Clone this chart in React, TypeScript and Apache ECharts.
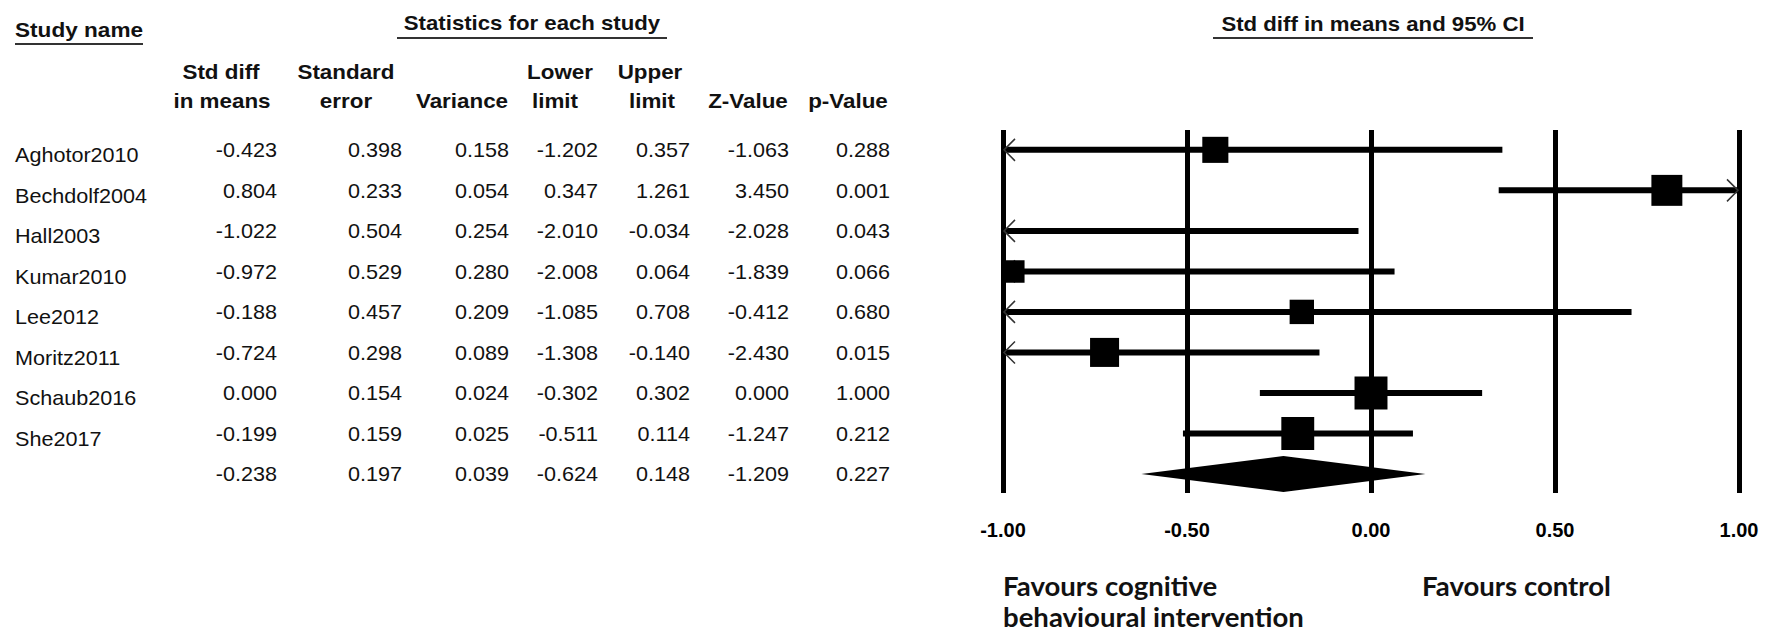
import React, { useEffect, useRef } from "react";
import * as echarts from "echarts";

// ---- data ----
const studies = ["Aghotor2010", "Bechdolf2004", "Hall2003", "Kumar2010", "Lee2012", "Moritz2011", "Schaub2016", "She2017"];
const stdDiff = [-0.423, 0.804, -1.022, -0.972, -0.188, -0.724, 0.0, -0.199];
const stdErr = [0.398, 0.233, 0.504, 0.529, 0.457, 0.298, 0.154, 0.159];
const variance = [0.158, 0.054, 0.254, 0.28, 0.209, 0.089, 0.024, 0.025];
const lowerLimit = [-1.202, 0.347, -2.01, -2.008, -1.085, -1.308, -0.302, -0.511];
const upperLimit = [0.357, 1.261, -0.034, 0.064, 0.708, -0.14, 0.302, 0.114];
const zValue = [-1.063, 3.45, -2.028, -1.839, -0.412, -2.43, 0.0, -1.247];
const pValue = [0.288, 0.001, 0.043, 0.066, 0.68, 0.015, 1.0, 0.212];
// pooled (summary) row: std diff, SE, variance, lower, upper, Z, p
const summaryRow = [-0.238, 0.197, 0.039, -0.624, 0.148, -1.209, 0.227];
const xTicks = [-1.0, -0.5, 0.0, 0.5, 1.0];
const TAU2 = 0.2; // between-study variance used for marker weights

const W = 1767;
const H = 636;
const FONT = '"Liberation Sans", Arial, sans-serif';

export default function App() {
  const ref = useRef<HTMLDivElement>(null);
  useEffect(() => {
    if (!ref.current) return;
    const chart = echarts.init(ref.current, undefined, { renderer: "svg" });
    const nRows = studies.length + 1;
    const studyData = studies.map((_, i) => [i, stdDiff[i], lowerLimit[i], upperLimit[i], variance[i]]);
    const summaryData = [[studies.length, summaryRow[0], summaryRow[3], summaryRow[4]]];

    chart.setOption({
      animation: false,
      backgroundColor: "#fff",
      grid: { left: 1003, right: W - 1739, top: 130, bottom: H - 493, containLabel: false },
      xAxis: {
        type: "value",
        min: -1,
        max: 1,
        interval: 0.5,
        axisLine: { show: false },
        axisTick: { show: false },
        splitLine: { show: true, lineStyle: { color: "#000", width: 5 } },
        axisLabel: {
          margin: 27,
          fontFamily: FONT,
          fontWeight: "bold",
          fontSize: 20,
          color: "#000",
          formatter: (v: number) => {
            const t = xTicks.find((k) => Math.abs(k - v) < 1e-9);
            return t === undefined ? "" : t.toFixed(2);
          },
        },
      },
      yAxis: { type: "value", inverse: true, min: -0.49, max: nRows - 0.53, show: false },
      series: [
        {
          type: "custom",
          data: studyData,
          encode: { x: [1, 2, 3], y: 0 },
          renderItem: (params: any, api: any) => {
            const row = api.value(0);
            const est = api.value(1);
            const lo = api.value(2);
            const hi = api.value(3);
            const v = api.value(4);
            const y = api.coord([0, row])[1];
            const x1 = api.coord([Math.max(lo, -1), row])[0];
            const x2 = api.coord([Math.min(hi, 1), row])[0];
            const children: any[] = [
              { type: "line", shape: { x1, y1: y, x2, y2: y }, style: { stroke: "#000", lineWidth: 6 } },
            ];
            if (lo < -1) {
              children.push({
                type: "polyline",
                shape: { points: [[x1 + 12, y - 11], [x1 + 1, y], [x1 + 12, y + 11]] },
                style: { stroke: "#333", lineWidth: 1.5, fill: "none" },
              });
            }
            if (hi > 1) {
              children.push({
                type: "polyline",
                shape: { points: [[x2 - 12, y - 11], [x2 - 1, y], [x2 - 12, y + 11]] },
                style: { stroke: "#333", lineWidth: 1.5, fill: "none" },
              });
            }
            if (est >= -1 && est <= 1) {
              const s = 15.6 * Math.sqrt(1 / (v + TAU2));
              const cx = api.coord([est, row])[0];
              children.push({
                type: "rect",
                shape: { x: cx - s / 2, y: y - s / 2, width: s, height: s },
                style: { fill: "#000" },
              });
            }
            return { type: "group", children };
          },
          z: 3,
        },
        {
          type: "custom",
          data: summaryData,
          encode: { x: [1, 2, 3], y: 0 },
          renderItem: (params: any, api: any) => {
            const row = api.value(0);
            const y = api.coord([0, row])[1];
            const xm = api.coord([api.value(1), row])[0];
            const xl = api.coord([api.value(2), row])[0];
            const xr = api.coord([api.value(3), row])[0];
            return {
              type: "polygon",
              shape: { points: [[xl, y], [xm, y - 18], [xr, y], [xm, y + 18]] },
              style: { fill: "#000" },
            };
          },
          z: 3,
        },
      ],
    });

    const rowY = (i: number) => chart.convertToPixel({ yAxisIndex: 0 }, i) as number;
    const g: any[] = [];
    const txt = (
      text: string,
      x: number,
      y: number,
      align: string,
      opts: { bold?: boolean; size?: number; sx?: number; family?: string; color?: string } = {}
    ) => {
      g.push({
        type: "text",
        x,
        y,
        scaleX: opts.sx ?? 1,
        style: {
          text,
          fill: opts.color ?? "#111",
          fontFamily: opts.family ?? FONT,
          fontSize: opts.size ?? 20,
          fontWeight: opts.bold ? "bold" : "normal",
          textAlign: align,
          align,
          textVerticalAlign: "middle",
          verticalAlign: "middle",
        },
      });
    };
    const uline = (x1: number, x2: number, y: number) => {
      g.push({ type: "line", shape: { x1, y1: y, x2, y2: y }, style: { stroke: "#333", lineWidth: 2 } });
    };

    // titles
    txt("Study name", 15, 30, "left", { bold: true, sx: 1.13 });
    uline(15, 143, 44);
    txt("Statistics for each study", 532, 23, "center", { bold: true, sx: 1.11 });
    uline(397, 667, 38);
    txt("Std diff in means and 95% CI", 1373, 24, "center", { bold: true, sx: 1.11 });
    uline(1213, 1533, 38);

    // column headers
    const h1 = 72;
    const h2 = 101;
    const hb = { bold: true, sx: 1.12 };
    txt("Std diff", 221, h1, "center", hb);
    txt("in means", 222, h2, "center", hb);
    txt("Standard", 346, h1, "center", hb);
    txt("error", 346, h2, "center", hb);
    txt("Variance", 462, h2, "center", hb);
    txt("Lower", 560, h1, "center", hb);
    txt("limit", 555, h2, "center", hb);
    txt("Upper", 650, h1, "center", hb);
    txt("limit", 652, h2, "center", hb);
    txt("Z-Value", 748, h2, "center", hb);
    txt("p-Value", 848, h2, "center", hb);

    // table body
    const colRight = [277, 402, 509, 598, 690, 789, 890];
    const vb = { sx: 1.08 };
    for (let i = 0; i < studies.length; i++) {
      const y = rowY(i);
      txt(studies[i], 15, y + 5, "left", vb);
      const vals = [stdDiff[i], stdErr[i], variance[i], lowerLimit[i], upperLimit[i], zValue[i], pValue[i]];
      vals.forEach((v, c) => txt(v.toFixed(3), colRight[c], y, "right", vb));
    }
    const ys = rowY(studies.length);
    summaryRow.forEach((v, c) => txt(v.toFixed(3), colRight[c], ys, "right", vb));

    // favours labels
    const fav = { bold: true, size: 26, sx: 1.06, family: "Lato, sans-serif", color: "#111" };
    txt("Favours cognitive", 1003, 586, "left", fav);
    txt("behavioural intervention", 1003, 617, "left", fav);
    txt("Favours control", 1422, 586, "left", fav);

    chart.setOption({ graphic: g });
    return () => chart.dispose();
  }, []);
  return <div ref={ref} style={{ position: "absolute", left: 0, top: 0, width: W, height: H }} />;
}
